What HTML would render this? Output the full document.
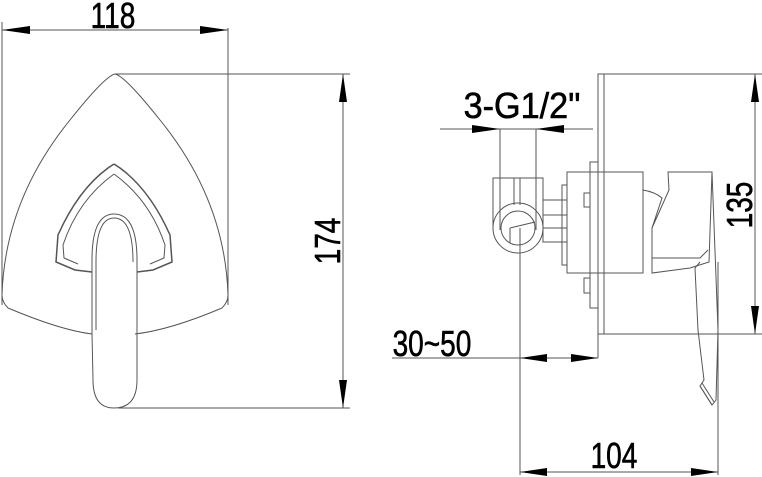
<!DOCTYPE html>
<html><head><style>html,body{margin:0;padding:0;background:#fff}svg{display:block}</style></head><body>
<svg width="762" height="477" viewBox="0 0 762 477" xmlns="http://www.w3.org/2000/svg" font-family="Liberation Sans, sans-serif">
<g fill="none" stroke="#555" stroke-width="1">
<line x1="2" y1="30" x2="228" y2="30"/><line x1="2" y1="22" x2="2" y2="305"/><line x1="228" y1="28" x2="228" y2="305"/>
<line x1="115" y1="74" x2="350" y2="74"/><line x1="118" y1="408" x2="350" y2="408"/><line x1="343" y1="74" x2="343" y2="408"/>
<path d="M115 74 Q125 76 160 120 Q225 200 228 295 Q228 302 222 308 Q170 330 135 334"/>
<path d="M115 74 Q105 76 70 120 Q5 200 2 295 Q2 302 8 308 Q60 330 92 334"/>
<path d="M114 164 L120 168 Q150 190 170 235 L172 262 L153 270 L137 272" stroke-width="1.5"/>
<path d="M114 164 L108 168 Q78 190 58 235 L56 262 L75 270 L92 272" stroke-width="1.5"/>
<path d="M114 174 Q150 200 165 245 L164 258 L150 264"/>
<path d="M114 174 Q78 200 63 245 L64 258 L78 264"/>
<path d="M92 334 L92 260 Q92 214 114 214 Q137 214 137 260 L137 380 Q137 408 114 408 Q93 408 93 380 Z"/>
<path d="M96 330 L96 262 Q96 218 114 218 Q133 218 133 262"/>
<line x1="440" y1="129" x2="593" y2="129"/><line x1="500" y1="129" x2="500" y2="230"/><line x1="536" y1="129" x2="536" y2="230"/>
<rect x="598" y="74" width="6" height="260"/><line x1="598" y1="74" x2="762" y2="74"/><line x1="604" y1="334" x2="762" y2="334"/>
<line x1="755" y1="74" x2="755" y2="334"/>
<rect x="590" y="162" width="8" height="146"/>
<rect x="567" y="172" width="76" height="101"/>
<rect x="562" y="185" width="5" height="80"/>
<rect x="584" y="193" width="6" height="14"/><rect x="584" y="278" width="6" height="15"/>
<path d="M543 230 L543 178 L493 178 L493 230"/>
<line x1="514" y1="178" x2="514" y2="205"/><line x1="520" y1="178" x2="520" y2="205"/>
<circle cx="518" cy="228" r="25"/><circle cx="518" cy="228" r="17"/>
<path d="M510 228 L510 243 M510 228 L535 222"/>
<rect x="543" y="200" width="24" height="42"/><line x1="543" y1="215" x2="567" y2="215"/><line x1="543" y1="228" x2="567" y2="228"/>
<path d="M643 190 Q655 192 662 198 L652 228 L652 273 L690 268 L709 262 L712 172 L668 172 L669 190 L652 228"/>
<path d="M652 258 L700 258 L708 250"/>
<path d="M700 262 L695 268 L698 330 L704 380 L700 386 L712 405 L716 400 L718 330 L712 172"/>
<path d="M700 386 L712 405 M702 383 L714 402"/>
<line x1="392" y1="358" x2="598" y2="358"/><line x1="598" y1="334" x2="598" y2="358"/>
<line x1="520" y1="228" x2="520" y2="475"/><line x1="718" y1="262" x2="718" y2="475"/>
<line x1="520" y1="472" x2="718" y2="472"/>
</g>
<g fill="#000">
<path d="M2 30 L30 26 L30 34Z"/><path d="M228 30 L200 26 L200 34Z"/>
<path d="M343 74 L339 102 L347 102Z"/><path d="M343 408 L339 380 L347 380Z"/>
<path d="M500 129 L472 125 L472 133Z"/><path d="M536 129 L564 125 L564 133Z"/>
<path d="M755 74 L751 102 L759 102Z"/><path d="M755 334 L751 306 L759 306Z"/>
<path d="M520 358 L547 354 L547 362Z"/><path d="M598 358 L571 354 L571 362Z"/>
<path d="M520 472 L547 468 L547 476Z"/><path d="M718 472 L691 468 L691 476Z"/>
</g>
<g font-size="36" fill="#000" stroke="#000" stroke-width="0.6">
<text x="113" y="28" text-anchor="middle" transform="translate(113 0) scale(0.78 1) translate(-113 0)">118</text>
<text x="522" y="118" text-anchor="middle" transform="translate(522 0) scale(0.95 1) translate(-522 0)">3-G1/2"</text>
<text x="432" y="356" text-anchor="middle" transform="translate(432 0) scale(0.78 1) translate(-432 0)">30~50</text>
<text x="614" y="468" text-anchor="middle" transform="translate(614 0) scale(0.78 1) translate(-614 0)">104</text>
<text transform="translate(340 241) rotate(-90) scale(0.78 1)" text-anchor="middle">174</text>
<text transform="translate(752 205) rotate(-90) scale(0.78 1)" text-anchor="middle">135</text>
</g>
</svg>
</body></html>
